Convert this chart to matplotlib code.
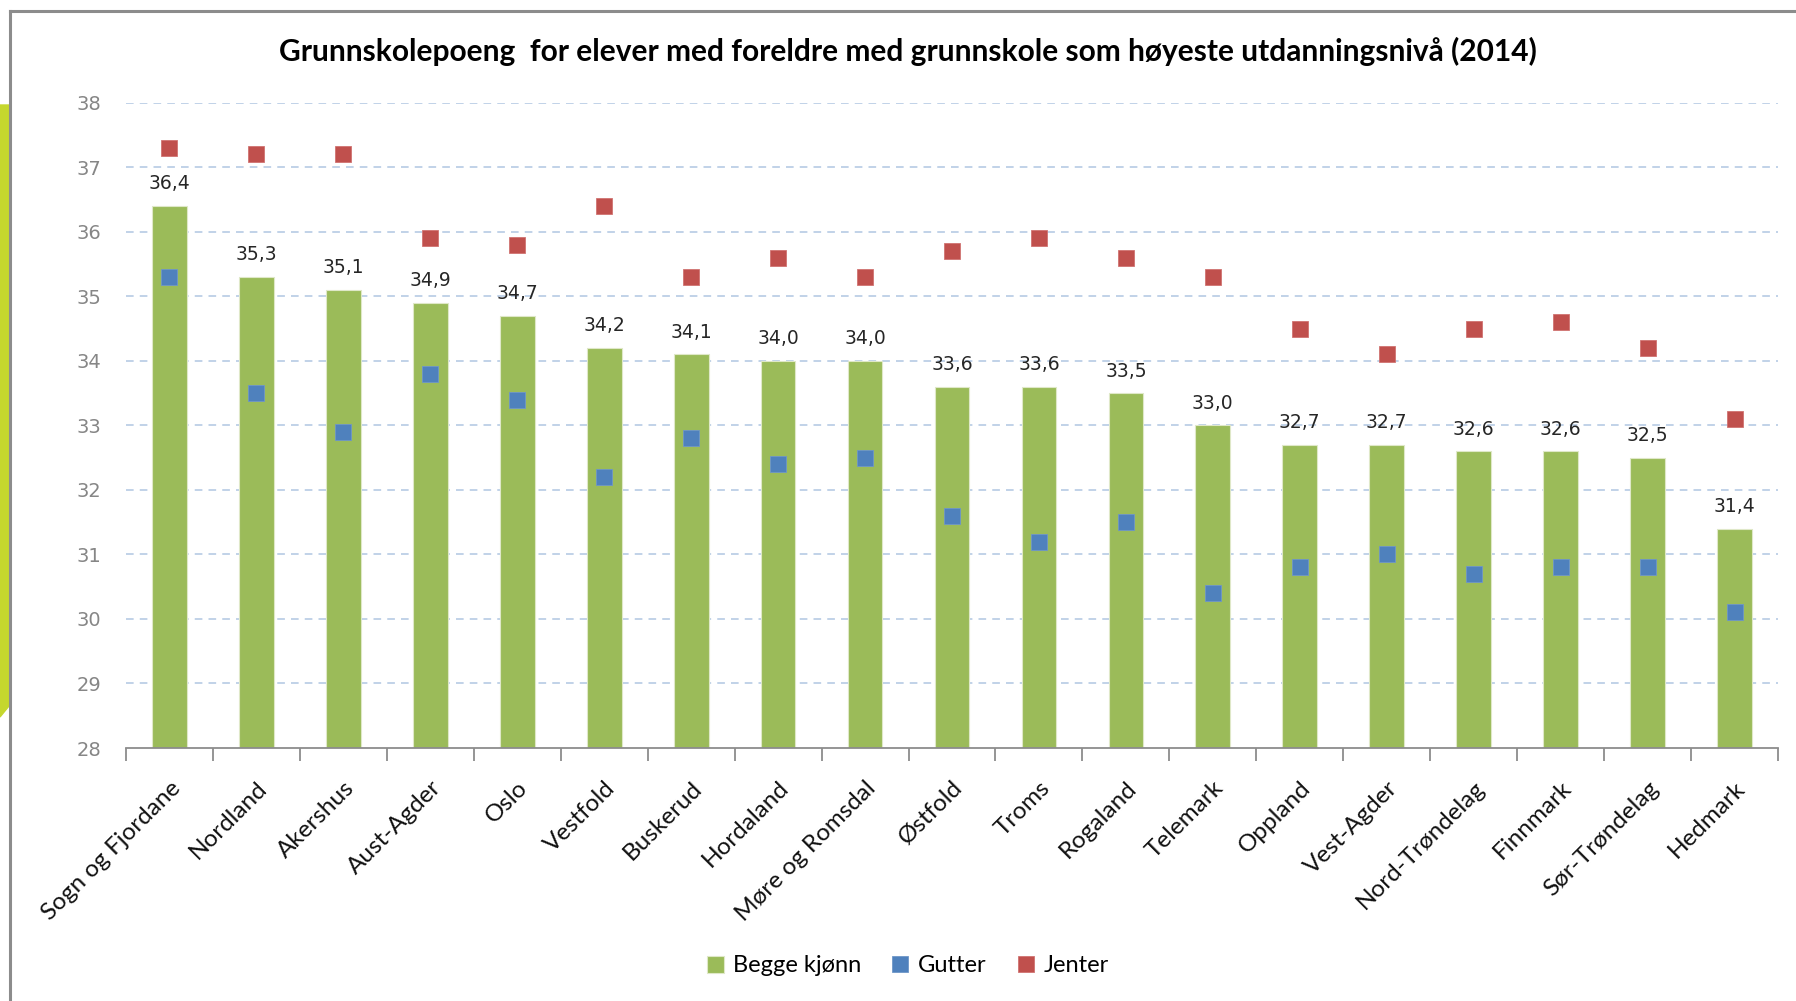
import matplotlib as mpl
mpl.use('Agg')
import matplotlib.pyplot as plt
from matplotlib.ticker import FixedLocator
from matplotlib.patches import Polygon
from matplotlib.lines import Line2D

fylker = ['Sogn og Fjordane', 'Nordland', 'Akershus', 'Aust-Agder', 'Oslo',
          'Vestfold', 'Buskerud', 'Hordaland', 'Møre og Romsdal', 'Østfold',
          'Troms', 'Rogaland', 'Telemark', 'Oppland', 'Vest-Agder',
          'Nord-Trøndelag', 'Finnmark', 'Sør-Trøndelag', 'Hedmark']
begge = [36.4, 35.3, 35.1, 34.9, 34.7, 34.2, 34.1, 34.0, 34.0, 33.6,
         33.6, 33.5, 33.0, 32.7, 32.7, 32.6, 32.6, 32.5, 31.4]
gutter = [35.3, 33.5, 32.9, 33.8, 33.4, 32.2, 32.8, 32.4, 32.5, 31.6,
          31.2, 31.5, 30.4, 30.8, 31.0, 30.7, 30.8, 30.8, 30.1]
jenter = [37.3, 37.2, 37.2, 35.9, 35.8, 36.4, 35.3, 35.6, 35.3, 35.7,
          35.9, 35.6, 35.3, 34.5, 34.1, 34.5, 34.6, 34.2, 33.1]
yticks = list(range(28, 39))

GREEN = '#9BBB59'
BLUE = '#4F81BD'
RED = '#C0504D'
TXT = 'Lato'

fig = plt.figure(figsize=(17.96, 10.01), dpi=100)

# frame and decoration at the left edge
fig.add_artist(Line2D([10/1796, 10/1796], [0, 1-11/1001], color='#8c8c8c', lw=2.2, transform=fig.transFigure))
fig.add_artist(Line2D([10/1796, 1], [1-11/1001, 1-11/1001], color='#8c8c8c', lw=2.2, transform=fig.transFigure))
fig.add_artist(Polygon([[0, 1-105/1001], [9/1796, 1-105/1001], [9/1796, 1-706/1001], [0, 1-717/1001]],
                       closed=True, color='#C5D72E', transform=fig.transFigure))

ax = fig.add_axes([126/1796, 1-748/1001, (1778-126)/1796, (748-102.7)/1001])

x = list(range(len(fylker)))
bars = ax.bar(x, [b - 28 for b in begge], bottom=28, width=0.4, color=GREEN,
              edgecolor='#dfe8c8', linewidth=0.8, zorder=2, label='Begge kjønn')
g, = ax.plot(x, gutter, 's', color=BLUE, markersize=11, markeredgecolor='#6f97c8',
             markeredgewidth=0.6, zorder=3, label='Gutter')
j, = ax.plot(x, jenter, 's', color=RED, markersize=11, markeredgecolor='#d07371',
             markeredgewidth=0.6, zorder=3, label='Jenter')

for xi, b in zip(x, begge):
    ax.annotate(('%.1f' % b).replace('.', ','), (xi, b), xytext=(0, 9),
                textcoords='offset points', ha='center', va='bottom',
                fontsize=13.5, color='#262626', family='DejaVu Sans')

ax.set_xlim(-0.5, len(fylker) - 0.5)
ax.set_ylim(28, 38)
ax.set_yticks(yticks)
ax.set_yticklabels([str(t) for t in yticks], fontsize=14, color='#868686', family='DejaVu Sans')
for t in yticks[1:]:
    ax.axhline(t, color='#b0c6e2', lw=1.1, ls=(0, (5, 4)), zorder=1)

ax.set_xticks(x)
ax.set_xticklabels(fylker, rotation=45, ha='right', rotation_mode='anchor',
                   fontsize=17.5, family=TXT, color='#111111')
ax.xaxis.set_minor_locator(FixedLocator([i - 0.5 for i in range(len(fylker) + 1)]))
ax.tick_params(axis='x', which='major', length=0, pad=21)
ax.tick_params(axis='x', which='minor', length=9, width=1.3, color='#8c8c8c')
ax.tick_params(axis='y', length=0, pad=18)

for s in ['left', 'right', 'top']:
    ax.spines[s].set_visible(False)
ax.spines['bottom'].set_color('#8c8c8c')
ax.spines['bottom'].set_linewidth(1.3)

fig.text(908/1796, 1-51/1001, 'Grunnskolepoeng  for elever med foreldre med grunnskole som høyeste utdanningsnivå (2014)',
         ha='center', va='center', fontsize=21.5, fontweight='bold', family=TXT, color='#000000')

fig.legend([bars, g, j], ['Begge kjønn', 'Gutter', 'Jenter'], loc='center',
           bbox_to_anchor=(908/1796, 1-966/1001), ncol=3, frameon=False,
           prop={'family': TXT, 'size': 17}, handlelength=0.7, handletextpad=0.4,
           columnspacing=1.3)

plt.savefig('out.png', dpi=100)
